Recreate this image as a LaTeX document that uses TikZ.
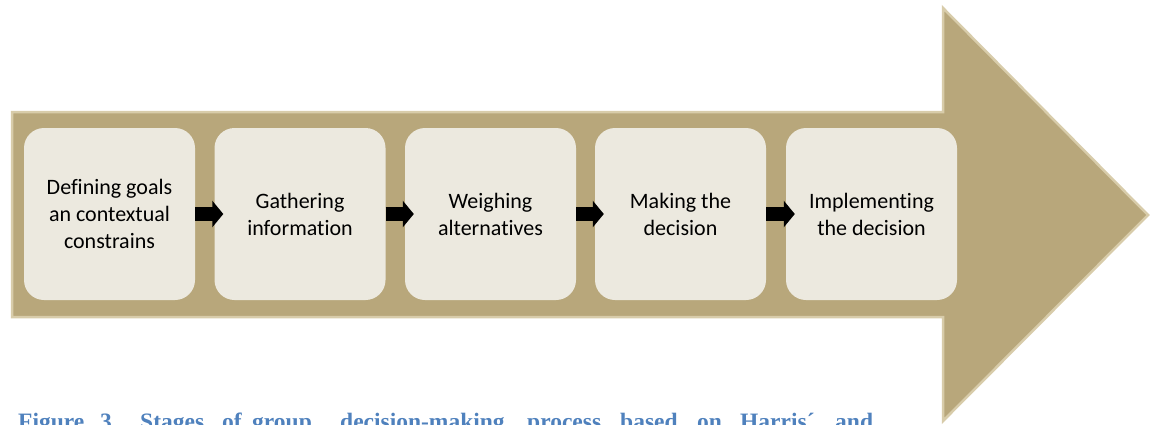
\documentclass[tikz,border=0pt]{standalone}
\usepackage{fontspec}
\setmainfont[Ligatures={NoCommon}]{Carlito}
\newfontfamily\captionserif{Liberation Serif}
\usetikzlibrary{arrows.meta}

\definecolor{arrowfill}{HTML}{B8A77B}
\definecolor{arrowedge}{HTML}{D8CCAA}
\definecolor{boxfill}{HTML}{ECE9DF}
\definecolor{captionblue}{HTML}{4F81BD}

\tikzset{
  stagebox/.style={fill=boxfill, draw=none, rounded corners=20pt,
    minimum width=171pt, minimum height=172pt, inner sep=0pt,
    align=center, font=\fontsize{22}{27}\selectfont, text=black},
  stepper/.style={draw=black, line width=14pt,
    -{Triangle[width=26pt,length=11pt]}},
  capword/.style={anchor=base west, inner sep=0pt, text=captionblue,
    font=\captionserif\bfseries\fontsize{23.5}{28}\selectfont}
}

\begin{document}
\begin{tikzpicture}[x=1pt, y=-1pt]
  \useasboundingbox (0,0) rectangle (1153,424);
  \fill[white] (0,0) rectangle (1153,424);

  % large block arrow carrying the stages
  \draw[fill=arrowfill, draw=arrowedge, line width=2.5pt, line join=miter]
    (12,112) -- (943,112) -- (943,8) -- (1148,215) -- (943,421)
    -- (943,317) -- (12,317) -- cycle;

  % stages
  \node[stagebox] (s1) at (109.5,214) {Defining goals\\an contextual\\constrains};
  \node[stagebox] (s2) at (300,214)   {Gathering\\information};
  \node[stagebox] (s3) at (490.5,214) {Weighing\\alternatives};
  \node[stagebox] (s4) at (680.5,214) {Making the\\decision};
  \node[stagebox] (s5) at (871.5,214) {Implementing\\the decision};

  % transitions between stages
  \draw[stepper] (s1.east) -- ([xshift=9pt]s2.west);
  \draw[stepper] (s2.east) -- ([xshift=9pt]s3.west);
  \draw[stepper] (s3.east) -- ([xshift=9pt]s4.west);
  \draw[stepper] (s4.east) -- ([xshift=9pt]s5.west);

  % caption line, cut at the lower edge
  \begin{scope}
    \clip (0,0) rectangle (1153,424);
    \node[capword] (c1)  at (18,429)  {Figure};
    \node[capword] (c2)  at (100,429) {3.};
    \node[capword] (c3)  at (140,429) {Stages};
    \node[capword] (c4)  at (222,429) {of};
    \node[capword] (c5)  at (252,429) {group};
    \node[capword] (c6)  at (340,429) {decision-making};
    \node[capword] (c7)  at (527,429) {process};
    \node[capword] (c8)  at (620,429) {based};
    \node[capword] (c9)  at (697,429) {on};
    \node[capword] (c10) at (740,429) {Harris´};
    \node[capword] (c11) at (835,429) {and};
  \end{scope}
\end{tikzpicture}
\end{document}
